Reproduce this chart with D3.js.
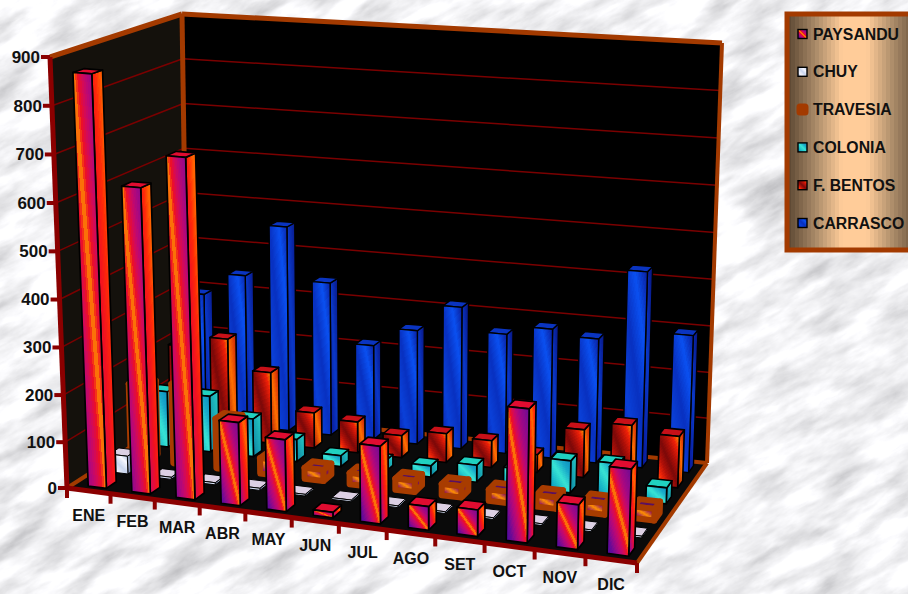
<!DOCTYPE html>
<html>
<head>
<meta charset="utf-8">
<script src="https://cdn.jsdelivr.net/npm/d3@7"></script>
<style>
  html, body { margin: 0; padding: 0; background: #e6e6ea; overflow: hidden; }
  text { font-family: "Liberation Sans", Arial, sans-serif; font-weight: bold; fill: #111; }
</style>
</head>
<body>
<svg id="chart" width="908" height="594"></svg>
<script>
var months = ["ENE","FEB","MAR","ABR","MAY","JUN","JUL","AGO","SET","OCT","NOV","DIC"];
var seriesNames = ["PAYSANDU","CHUY","TRAVESIA","COLONIA","F. BENTOS","CARRASCO"];
var yTicks = [0,100,200,300,400,500,600,700,800,900];

var paysandu = [866,640,710,176,152,12,162,50,56,272,92,176];
var chuy     = [40,5,5,5,4,4,4,4,4,4,4,4];
var travesia = [165,175,110,35,25,25,25,25,25,25,25,25];
var colonia  = [125,125,85,50,25,25,25,38,40,70,75,35];
var fbentos  = [200,225,160,80,70,50,65,60,40,105,125,112];
var carrasco = [292,342,458,342,212,254,314,264,284,272,424,297];
var seriesValues = [paysandu,chuy,travesia,colonia,fbentos,carrasco];

var svg = d3.select("#chart"), defs = svg.append("defs");

// marble background
var marble = defs.append("filter").attr("id","marble")
  .attr("x",0).attr("y",0).attr("width","100%").attr("height","100%");
marble.append("feTurbulence").attr("type","fractalNoise")
  .attr("baseFrequency","0.016 0.05").attr("numOctaves",6).attr("seed",11);
marble.append("feColorMatrix").attr("type","matrix")
  .attr("values","0.6 0.6 0 0 0.29  0.6 0.6 0 0 0.29  0.6 0.6 0 0 0.31  0 0 0 0 1");
svg.append("rect").attr("x",-300).attr("y",-300).attr("width",1500).attr("height",1200)
  .attr("filter","url(#marble)").attr("transform","rotate(-28 454 297)");

// stepped gradients, the original has visible bands
function gradient(id, colors, x1, y1, x2, y2) {
  var g = defs.append("linearGradient").attr("id",id)
    .attr("x1",x1).attr("y1",y1).attr("x2",x2).attr("y2",y2);
  var ip = d3.piecewise(d3.interpolateRgb, colors), n = 34;
  d3.range(n).forEach(function(i){
    g.append("stop").attr("offset",i/n).attr("stop-color",ip(i/(n-1)));
    g.append("stop").attr("offset",(i+1)/n).attr("stop-color",ip(i/(n-1)));
  });
}
var faces = [
  {front:["#4a0a9c","#5a0a9a","#6a0a96","#8a0a8c","#a80880","#c00870","#d80a50","#f01020","#ff9000","#f01020","#d80a50","#c00870","#a80880","#980888","#8a0a8c","#7a0a90","#6a0a96"], side:["#5a0c98","#a00a80","#d80a50","#f01020","#ff2a08","#ff6a00","#ff2a08","#e80c30"], top:"#e00c30", stroke:"#000", sw:1.7},
  {front:["#8fa8d8","#f4f4fc","#c8d4ee","#f8f8ff","#a8bce0"], side:["#6f7fa8","#d8def0"], top:"#dcd0e4", stroke:"#000", sw:1},
  {front:["#4a0a80","#8a1068","#ff9000","#8a1068","#4a0a80"], side:["#5a0a70","#a02030"], top:"#5a1060", stroke:"#a83c00", sw:6},
  {front:["#0a8cc0","#18b8c8","#38e4d4","#18a8c8","#0a8cc0"], side:["#0a80a0","#28d0c8"], top:"#20d0c0", stroke:"#000", sw:1.6},
  {front:["#ffa000","#f82808","#b01008","#7a0808","#b01008","#f02008","#ffa800"], side:["#a00c08","#ff7000","#c01008"], top:"#c81018", stroke:"#000", sw:1.6},
  {front:["#0a20a8","#0a40d8","#0830c0","#0a50f0","#0a20a0"], side:["#081490","#0a38c8","#081480"], top:"#0a34c0", stroke:"#000", sw:1.4}
];
faces.forEach(function(f,i){
  gradient("front"+i, f.front, 0, 1, 1, 0);
  gradient("side"+i, f.side, 0, 1, 1, 0);
});
gradient("legendBg", ["#5f4a35","#a98a68","#ffcc99","#ffcc99","#a98a68","#5f4a35"], 0, 0, 1, 0);

// the box: floor and roof quads, u along months, v into the depth, w up
function quadMap(p0,p1,p2,p3) {
  var dx1=p1[0]-p2[0], dx2=p3[0]-p2[0], sx=p0[0]-p1[0]+p2[0]-p3[0];
  var dy1=p1[1]-p2[1], dy2=p3[1]-p2[1], sy=p0[1]-p1[1]+p2[1]-p3[1];
  var den=dx1*dy2-dx2*dy1;
  var g=(sx*dy2-dx2*sy)/den, h=(dx1*sy-sx*dy1)/den;
  var a=p1[0]-p0[0]+g*p1[0], b=p3[0]-p0[0]+h*p3[0];
  var d=p1[1]-p0[1]+g*p1[1], e=p3[1]-p0[1]+h*p3[1];
  return function(u,v){
    var q=g*u+h*v+1;
    return [(a*u+b*v+p0[0])/q,(d*u+e*v+p0[1])/q];
  };
}
var floorMap = quadMap([67,488],[637,563],[707,463],[188,410]);
var roofMap  = quadMap([50,57],[652,100],[722,43],[182,14]);
// the month spacing of the original is flatter than the quads give
function warp(u) { return u+0.078*u*(1-u); }
function project(u,v,w) {
  var p=floorMap(warp(u),v), q=roofMap(warp(u),v);
  return [p[0]+(q[0]-p[0])*w, p[1]+(q[1]-p[1])*w];
}

var xBand = d3.scaleBand().domain(months).range([0,1]).paddingInner(0.58).paddingOuter(0.29).align(0.6);
var xEdge = d3.scaleLinear().domain([0,months.length]).range([0,1]);
var depth = d3.scaleBand().domain(seriesNames).range([0,1]).paddingInner(0.55).paddingOuter(0.275);
var yVal  = d3.scalePow().exponent(1.02).domain([0,900]).range([0,1]);

var line = d3.line();
function poly(sel, pts) { return sel.append("path").attr("d", line(pts)+"Z"); }
function seg(sel, p, q, color, width) {
  return sel.append("line").attr("x1",p[0]).attr("y1",p[1]).attr("x2",q[0]).attr("y2",q[1])
    .attr("stroke",color).attr("stroke-width",width);
}

var chart = svg.append("g");
var BROWN="#a33a00", DARKRED="#8b0000";

// walls and floor
poly(chart,[project(0,0,0),project(0,1,0),project(0,1,1),project(0,0,1)]).attr("fill","#14110c");
poly(chart,[project(0,1,0),project(1,1,0),project(1,1,1),project(0,1,1)]).attr("fill","#000");
poly(chart,[project(0,0,0),project(1,0,0),project(1,1,0),project(0,1,0)]).attr("fill","#0a0a0a");

// grid
yTicks.slice(1,-1).forEach(function(t){
  var w=yVal(t);
  seg(chart,project(0,0,w),project(0,1,w),"#7a0000",1.5);
  seg(chart,project(0,1,w),project(1,1,w),"#7a0000",1.5);
});
// frame
seg(chart,project(0,0,0),project(0,1,0),BROWN,4);
seg(chart,project(0,1,0),project(1,1,0),BROWN,4);
seg(chart,project(1,0,0),project(1,1,0),BROWN,4);
seg(chart,project(0,0,1),project(0,1,1),BROWN,5);
seg(chart,project(0,1,1),project(1,1,1),BROWN,5);
seg(chart,project(0,1,0),project(0,1,1),BROWN,5);
seg(chart,project(1,1,0),project(1,1,1),BROWN,4);

// bars, back row first
d3.range(seriesNames.length-1,-1,-1).forEach(function(si){
  var row = chart.append("g"), st = faces[si];
  months.forEach(function(m,mi){
    var u0=xBand(m), u1=u0+xBand.bandwidth();
    var v0=depth(seriesNames[si]), v1=v0+depth.bandwidth();
    var w=yVal(seriesValues[si][mi]);
    var bar=row.append("g").attr("stroke",st.stroke).attr("stroke-width",st.sw).attr("stroke-linejoin","round");
    poly(bar,[project(u1,v0,0),project(u1,v1,0),project(u1,v1,w),project(u1,v0,w)]).attr("fill","url(#side"+si+")");
    poly(bar,[project(u0,v0,w),project(u1,v0,w),project(u1,v1,w),project(u0,v1,w)]).attr("fill",st.top);
    poly(bar,[project(u0,v0,0),project(u1,v0,0),project(u1,v0,w),project(u0,v0,w)]).attr("fill","url(#front"+si+")");
  });
});

// axes
seg(chart,project(0,0,0),project(0,0,1),DARKRED,5);
seg(chart,project(0,0,0),project(1,0,0),DARKRED,5);
yTicks.forEach(function(t){
  var p=project(0,0,yVal(t));
  seg(chart,[p[0]-9,p[1]],[p[0],p[1]],DARKRED,4);
  chart.append("text").attr("x",p[0]-10).attr("y",p[1]).attr("dy","0.35em")
    .attr("text-anchor","end").attr("font-size",17).text(t);
});
d3.range(months.length+1).forEach(function(i){
  var p=project(xEdge(i),0,0);
  seg(chart,p,[p[0],p[1]+10],DARKRED,4);
});
months.forEach(function(m,i){
  var p=project((xEdge(i)+xEdge(i+1))/2,0,0);
  chart.append("text").attr("x",p[0]).attr("y",p[1]+25).attr("dy","0.35em")
    .attr("text-anchor","middle").attr("font-size",16).text(m);
});

// legend
var legend = svg.append("g");
legend.append("rect").attr("x",787).attr("y",14).attr("width",135).attr("height",236)
  .attr("fill","url(#legendBg)").attr("stroke",BROWN).attr("stroke-width",5);
var legendY = d3.scalePoint().domain(seriesNames).range([34,223]);
seriesNames.forEach(function(n,i){
  var y=legendY(n);
  legend.append("rect").attr("x",798).attr("y",y-4.5).attr("width",9).attr("height",9)
    .attr("fill",i==2?BROWN:"url(#front"+i+")").attr("stroke",i==2?BROWN:"#000").attr("stroke-width",i==2?3:1.4)
    .attr("rx",i==2?2:0);
  legend.append("text").attr("x",813).attr("y",y).attr("dy","0.35em").attr("font-size",15.8).text(n);
});
</script>
</body>
</html>
